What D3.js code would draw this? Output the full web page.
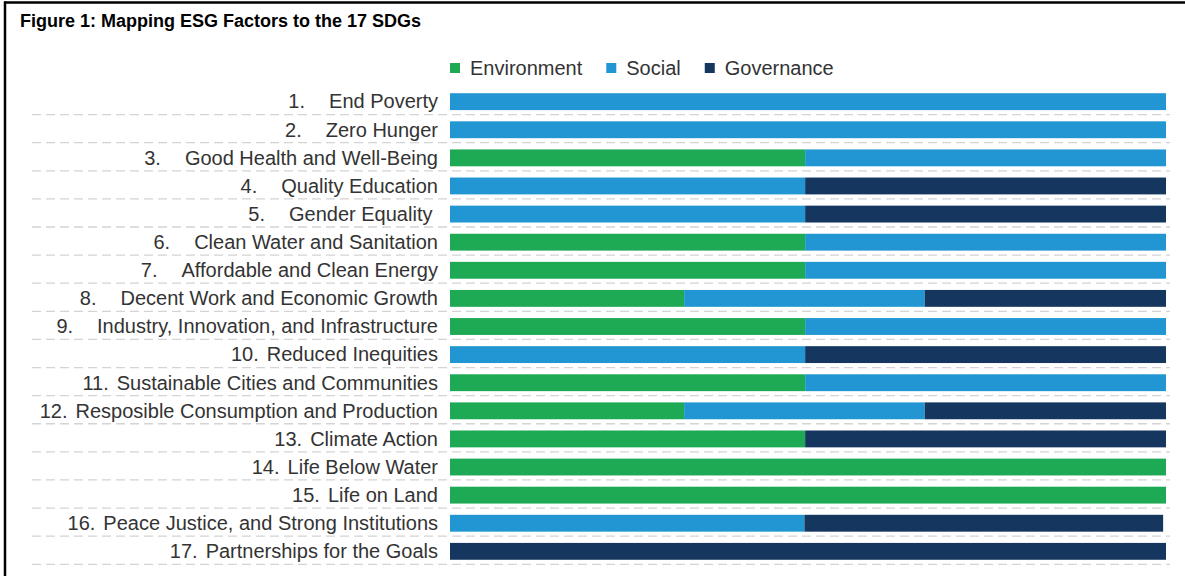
<!DOCTYPE html>
<html>
<head>
<meta charset="utf-8">
<script src="https://cdn.jsdelivr.net/npm/d3@7"></script>
<style>
  html, body { margin: 0; padding: 0; background: #fff; }
  svg { display: block; }
  text { font-family: "Liberation Sans", Arial, Helvetica, sans-serif; }
</style>
</head>
<body>
<svg id="chart" width="1185" height="576"></svg>
<script>
// ---- data ----
const goalNumbers = ["1.", "2.", "3.", "4.", "5.", "6.", "7.", "8.", "9.", "10.", "11.", "12.", "13.", "14.", "15.", "16.", "17."];
const goalNames = [
  "End Poverty",
  "Zero Hunger",
  "Good Health and Well-Being",
  "Quality Education",
  "Gender Equality ",
  "Clean Water and Sanitation",
  "Affordable and Clean Energy",
  "Decent Work and Economic Growth",
  "Industry, Innovation, and Infrastructure",
  "Reduced Inequities",
  "Sustainable Cities and Communities",
  "Resposible Consumption and Production",
  "Climate Action",
  "Life Below Water",
  "Life on Land",
  "Peace Justice, and Strong Institutions",
  "Partnerships for the Goals"
];
const seriesNames = ["Environment", "Social", "Governance"];
const environment = [0, 0, 49.6, 0, 0, 49.6, 49.6, 32.7, 49.6, 0, 49.6, 32.7, 49.6, 100, 100, 0, 0];
const social      = [100, 100, 50.4, 49.6, 49.6, 50.4, 50.4, 33.6, 50.4, 49.6, 50.4, 33.6, 0, 0, 0, 49.5, 0];
const governance  = [0, 0, 0, 50.4, 50.4, 0, 0, 33.7, 0, 50.4, 0, 33.7, 50.4, 0, 0, 50.1, 100];
const titleText = "Figure 1: Mapping ESG Factors to the 17 SDGs";

const colors = ["#1eaa55", "#2196d3", "#15365f"];

// ---- build table ----
const rows = goalNames.map((name, i) => ({
  key: String(i),
  num: goalNumbers[i],
  name: name,
  Environment: environment[i],
  Social: social[i],
  Governance: governance[i]
}));

const svg = d3.select("#chart");

// frame
svg.append("line").attr("x1", 4).attr("x2", 1185).attr("y1", 2.5).attr("y2", 2.5)
  .attr("stroke", "#000").attr("stroke-width", 2.5);
svg.append("line").attr("x1", 5).attr("x2", 5).attr("y1", 1.5).attr("y2", 576)
  .attr("stroke", "#000").attr("stroke-width", 2.5);

// title
svg.append("text").attr("x", 20).attr("y", 27)
  .attr("font-weight", "bold").attr("font-size", 18).attr("fill", "#000")
  .text(titleText);

// scales
const x = d3.scaleLinear().domain([0, 100]).range([450, 1166]);
const y = d3.scaleBand().domain(rows.map(d => d.key)).range([87.6, 565.4]).paddingInner(0.4).paddingOuter(0.2);
const color = d3.scaleOrdinal().domain(seriesNames).range(colors);

const stack = d3.stack().keys(seriesNames);
const stacked = stack(rows);

// dashed separators
const sep = svg.append("g");
sep.selectAll("line").data(rows).join("line")
  .attr("x1", 32).attr("x2", 1170)
  .attr("y1", d => y(d.key) + y.bandwidth() + 4.5)
  .attr("y2", d => y(d.key) + y.bandwidth() + 4.5)
  .attr("stroke", "#d4d4d4").attr("stroke-width", 1.3)
  .attr("stroke-dasharray", "9,5");

// bars
svg.append("g").selectAll("g").data(stacked).join("g")
  .attr("fill", d => color(d.key))
  .selectAll("rect").data(d => d).join("rect")
  .attr("x", d => x(d[0]))
  .attr("width", d => Math.max(0, x(d[1]) - x(d[0])))
  .attr("y", d => y(d.data.key))
  .attr("height", y.bandwidth());

// category axis (labels only)
const axis = d3.axisLeft(y).tickSize(0).tickPadding(12).tickFormat(() => "");
const ag = svg.append("g").attr("transform", "translate(450,0)").call(axis);
ag.select(".domain").remove();
ag.selectAll(".tick text").each(function(k) {
  const d = rows[+k];
  const t = d3.select(this)
    .attr("font-size", 20)
    .attr("fill", "#333")
    .attr("text-anchor", "end")
    .attr("dy", "0.34em")
    .style("white-space", "pre");
  t.append("tspan").text(d.num);
  t.append("tspan").attr("dx", d.num.length > 2 ? 8 : 24).text(d.name);
});

// legend
const legend = svg.append("g").attr("transform", "translate(450,63)");
let lx = 0;
seriesNames.forEach((s, i) => {
  const g = legend.append("g").attr("transform", `translate(${lx},0)`);
  g.append("rect").attr("width", 10).attr("height", 10).attr("fill", color(s));
  const t = g.append("text").attr("x", 20).attr("y", 5).attr("dy", "0.35em")
    .attr("font-size", 20).attr("fill", "#333").text(s);
  lx += 20 + t.node().getComputedTextLength() + 24;
});
</script>
</body>
</html>
